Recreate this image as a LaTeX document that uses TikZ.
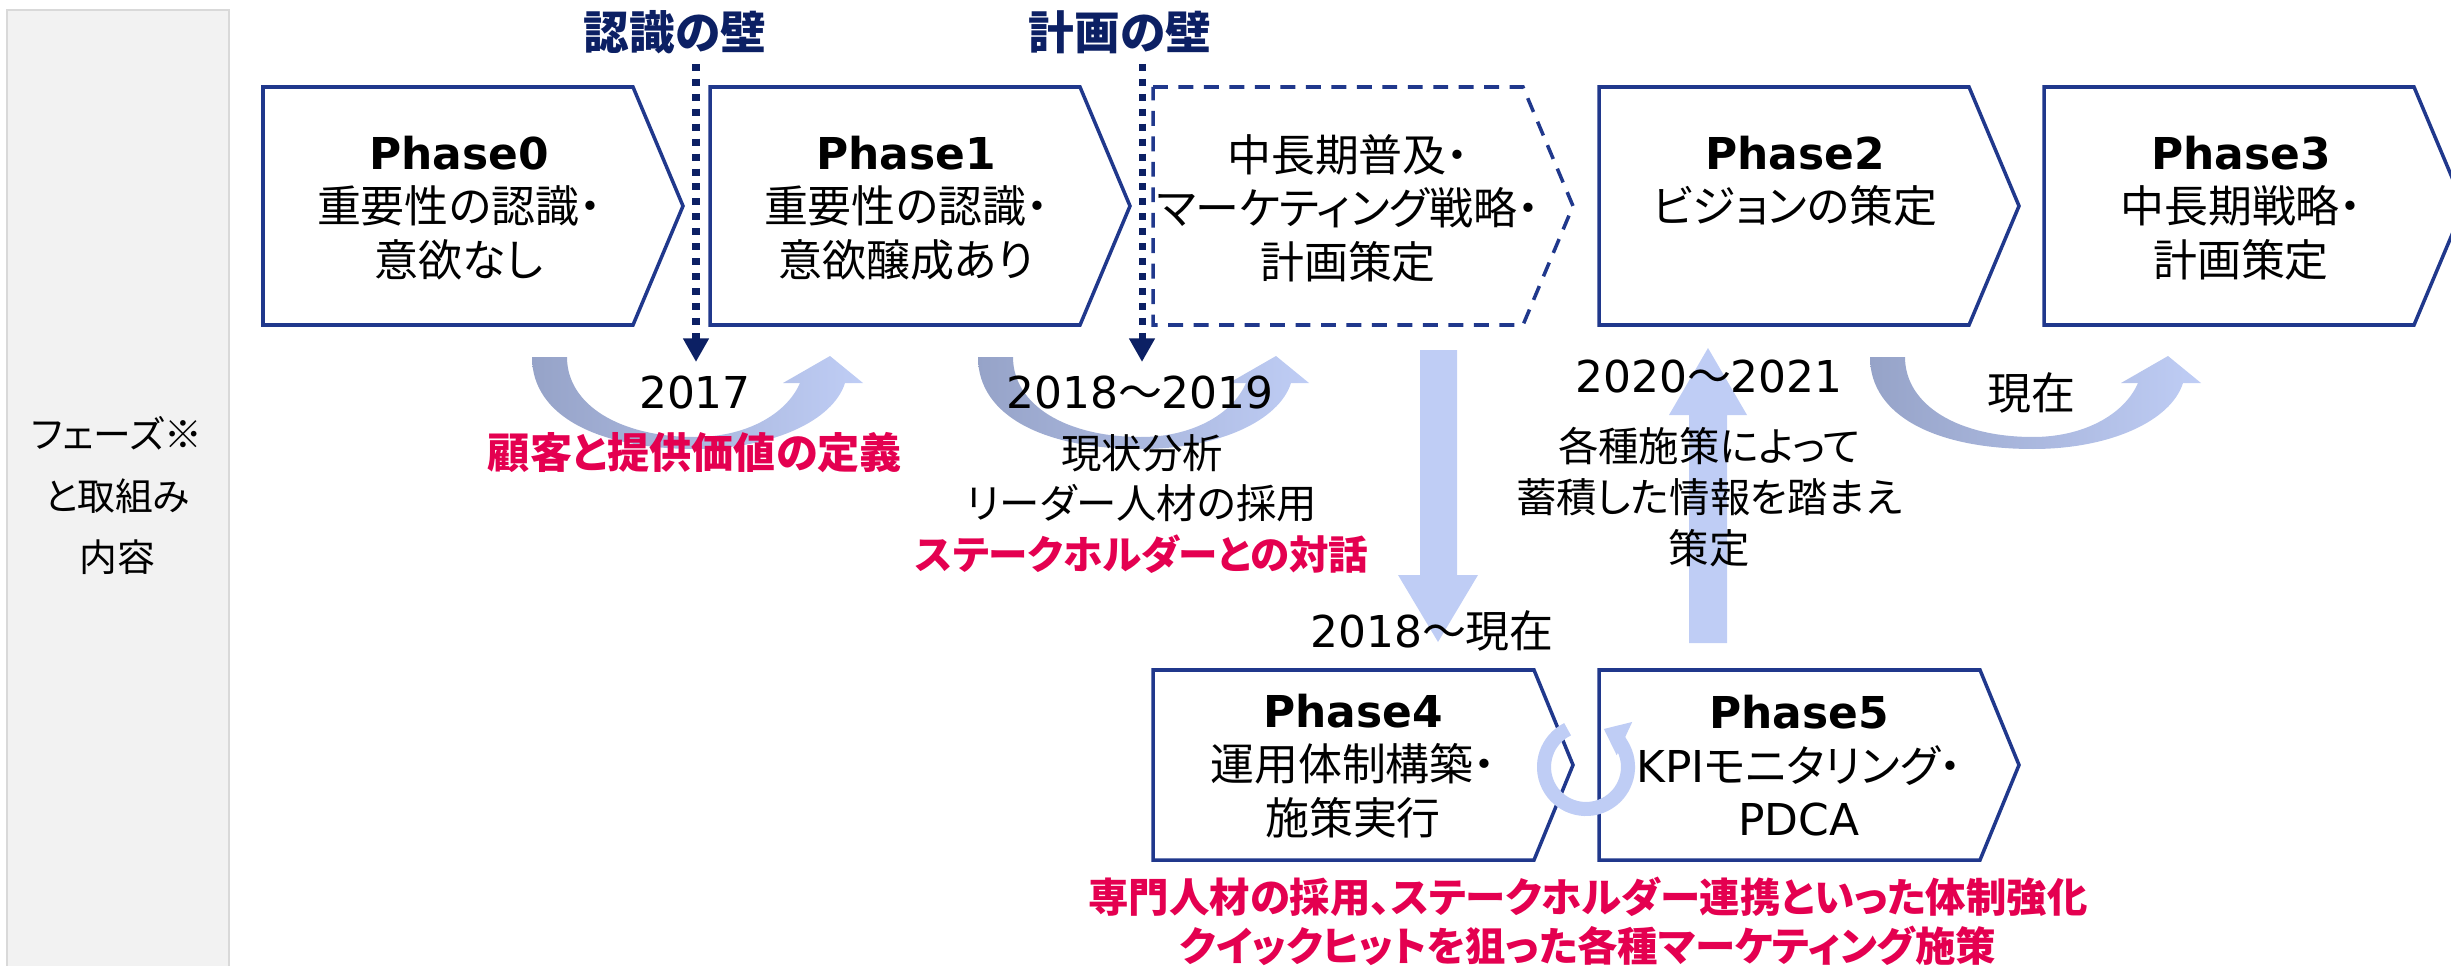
\documentclass[tikz,border=0pt]{standalone}
\usepackage{fontspec}
\setmainfont{Noto Sans CJK JP}[RawFeature=+palt]
\newfontfamily\lat{DejaVu Sans}
\usetikzlibrary{arrows.meta}

\definecolor{boxblue}{RGB}{32,56,140}
\definecolor{wallnavy}{RGB}{12,32,100}
\definecolor{arrowlight}{RGB}{191,205,245}
\definecolor{arrowdark}{RGB}{150,163,200}
\definecolor{keyred}{RGB}{228,0,80}
\definecolor{panelgrey}{RGB}{242,242,242}
\definecolor{panelline}{RGB}{217,217,217}

\newcommand\phasettl[1]{{\lat\fontsize{25}{30.5}\selectfont\bfseries Phase#1}}

\tikzset{
    phasebox/.style={draw=boxblue, line width=2pt, fill=white},
    planbox/.style={phasebox, dash pattern=on 8.5pt off 6pt},
    plantext/.style={align=center, inner sep=0pt, font=\fontsize{25}{30.5}\selectfont},
    annot/.style={align=center, inner sep=0pt, font=\fontsize{23}{29}\selectfont},
    yeartext/.style={inner sep=0pt, font=\fontsize{25}{29}\selectfont},
    keytext/.style={align=center, inner sep=0pt, text=keyred, font=\fontsize{23}{28}\selectfont\bfseries},
    walltitle/.style={inner sep=0pt, text=wallnavy, font=\fontsize{26}{30}\selectfont\bfseries},
    wallline/.style={wallnavy, line width=4pt, dash pattern=on 4pt off 4.5pt, -{Triangle[width=14pt,length=13.5pt]}},
    paneltext/.style={align=center, inner sep=0pt, font=\fontsize{21.5}{35}\selectfont},
    cyclearrow/.style={arrowlight, line width=8pt, -{Triangle[width=20pt,length=13pt]}}
}

\begin{document}
\begin{tikzpicture}[x=0.02cm, y=-0.02cm]
    \useasboundingbox (0,0) rectangle (2451,966);

    % side panel
    \draw[fill=panelgrey, draw=panelline, line width=1.5pt] (7,10) rectangle (229,975);
    \node[paneltext] (side) at (117,496) {フェーズ※\\と取組み\\内容};

    % turning arrows between phases
    \foreach \dx in {0,446,1338}
        \shade[left color=arrowdark, right color=arrowlight, xshift=\dx*0.02cm]
            (532,357) .. controls (532,417) and (600,449) .. (695,449)
            .. controls (772,449) and (833,421) .. (845,383)
            -- (863,383) -- (830,356) -- (783,383) -- (800,383)
            .. controls (786,415) and (745,437) .. (695,437)
            .. controls (620,437) and (567,405) .. (567,357) -- cycle;

    % block arrows down to Phase4 and up to Phase2
    \fill[arrowlight] (1420,350) -- (1457,350) -- (1457,575) -- (1478,575) -- (1438,642) -- (1398,575) -- (1420,575) -- cycle;
    \fill[arrowlight] (1689,643) -- (1727,643) -- (1727,415) -- (1747,415) -- (1708,348) -- (1669,415) -- (1689,415) -- cycle;

    % top row
    \foreach \x in {263,710,1599,2044}
        \draw[phasebox] (\x,87) -- ++(370,0) -- ++(50,119) -- ++(-50,119) -- ++(-370,0) -- cycle;
    \draw[planbox] (1153,87) -- ++(370,0) -- ++(50,119) -- ++(-50,119) -- ++(-370,0) -- cycle;

    % bottom row
    \foreach \x in {1153,1599}
        \draw[phasebox] (\x,670) -- ++(381,0) -- ++(39,95) -- ++(-39,95) -- ++(-381,0) -- cycle;

    % walls
    \node[walltitle] (wall1) at (675,32) {認識の壁};
    \node[walltitle] (wall2) at (1120,32) {計画の壁};
    \coordinate (wall1 top) at (696,64); \coordinate (wall1 end) at (696,362);
    \coordinate (wall2 top) at (1142,64); \coordinate (wall2 end) at (1142,362);
    \draw[wallline] (wall1 top) -- (wall1 end);
    \draw[wallline] (wall2 top) -- (wall2 end);

    % cycle between Phase4 and Phase5
    \begin{scope}[shift={(1586,767)}, y=0.02cm]
        \draw[cyclearrow] (116:42) arc[start angle=116, end angle=425, radius=42];
    \end{scope}

    % phase texts
    \node[plantext] (t0) at (459,208) {\phasettl{0}\\重要性の認識・\\意欲なし};
    \node[plantext] (t1) at (906,208) {\phasettl{1}\\重要性の認識・\\意欲醸成あり};
    \node[plantext] (tplan) at (1348,208) {中長期普及・\\マーケティング戦略・\\計画策定};
    \node[plantext] (t2) at (1795,181) {\phasettl{2}\\ビジョンの策定};
    \node[plantext] (t3) at (2241,208) {\phasettl{3}\\中長期戦略・\\計画策定};
    \node[plantext] (t4) at (1353,766) {\phasettl{4}\\運用体制構築・\\施策実行};
    \node[plantext] (t5) at (1799,766) {\phasettl{5}\\{\lat KPI}モニタリング・\\{\lat PDCA}};

    % periods and measures
    \node[yeartext] (y17) at (695,393) {\lat 2017};
    \node[keytext, font=\fontsize{24}{28}\selectfont\bfseries] (k17) at (695,453) {顧客と提供価値の定義};
    \node[yeartext] (y18) at (1140,393) {{\lat 2018}～{\lat 2019}};
    \node[annot] (a18) at (1142,504) {現状分析\\リーダー人材の採用\\{\color{keyred}\bfseries\fontsize{22.5}{29}\selectfont ステークホルダーとの対話}};
    \node[yeartext] (ynow) at (2031,393) {現在};
    \node[yeartext] (y20) at (1709,377) {{\lat 2020}～{\lat 2021}};
    \node[annot] (a20) at (1709,497) {各種施策によって\\蓄積した情報を踏まえ\\策定};
    \node[yeartext] (y18now) at (1432,631) {{\lat 2018}～現在};
    \node[keytext] (k45) at (1588,921) {専門人材の採用、ステークホルダー連携といった体制強化\\クイックヒットを狙った各種マーケティング施策};
\end{tikzpicture}
\end{document}
